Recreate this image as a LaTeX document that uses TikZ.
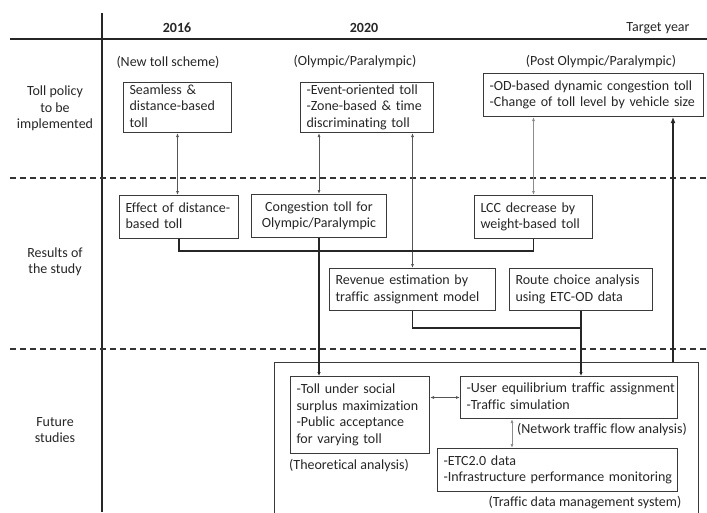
\documentclass[tikz,border=0pt]{standalone}
\usepackage{fontspec}
\setmainfont{Carlito}[Ligatures=NoCommon]
\usetikzlibrary{arrows.meta,calc}
\definecolor{txt}{HTML}{262626}
\definecolor{boxc}{HTML}{3A3A3A}
\definecolor{thin}{HTML}{555555}
\definecolor{light}{HTML}{8C8C8C}
\newcommand{\tl}[1]{\begin{tabular}{@{}l@{}}#1\end{tabular}}
\newcommand{\tc}[1]{\begin{tabular}{@{}c@{}}#1\end{tabular}}
\begin{document}
\begin{tikzpicture}[x=1pt,y=-1pt,
  font=\fontsize{14}{16.6}\selectfont, text=txt,
  axis/.style={line width=2pt, draw=black!85},
  sep/.style={line width=1.7pt, draw=black!80, dash pattern=on 6pt off 4pt},
  bx/.style={draw=boxc, line width=1pt, inner xsep=6pt, inner ysep=0pt, align=left, anchor=north west, text=txt},
  bxc/.style={bx, align=center},
  lbl/.style={align=center, text=txt},
  dbl/.style={draw=thin, line width=0.8pt, {Latex[length=4pt,width=3pt]}-{Latex[length=4pt,width=3pt]}},
  dbll/.style={dbl, draw=light},
  link/.style={draw=black!85, line width=1.5pt},
  tip/.style={-{Latex[length=4pt,width=3.5pt]}},
]
\useasboundingbox (0,0) rectangle (707,512);
% axes
\draw[axis] (102,13) -- (102,512);
\draw[axis] (10,39) -- (707,39);
\draw[sep] (10,178) -- (707,178);
\draw[sep] (10,349) -- (707,349);
% headers
\node[lbl, font=\fontsize{14}{16.6}\selectfont\bfseries] (h2016) at (177,28) {2016};
\node[lbl, font=\fontsize{14}{16.6}\selectfont\bfseries] (h2020) at (364,28) {2020};
\node[lbl] (htarget) at (658,28) {Target year};
% row labels
\node[lbl] (r1) at (55,109) {\tc{Toll policy\\to be\\implemented}};
\node[lbl] (r2) at (55,262) {\tc{Results of\\the study}};
\node[lbl] (r3) at (55,431) {\tc{Future\\studies}};
% row 1
\node[lbl] (c1) at (168,62) {(New toll scheme)};
\node[lbl] (c2) at (355,62) {(Olympic/Paralympic)};
\node[lbl] (c3) at (601,62) {(Post Olympic/Paralympic)};
\node[bx, text width=96pt, minimum height=50pt] (seam) at (123,82) {\tl{Seamless \&\\distance-based\\toll}};
\node[bx, text width=121pt, minimum height=50pt] (event) at (300,82) {\tl{-Event-oriented toll\\-Zone-based \& time\\discriminating toll}};
\node[bx, text width=208pt, minimum height=43pt] (od) at (483,73) {\tl{-OD-based dynamic congestion toll\\-Change of toll level by vehicle size}};
% row 2
\node[bx, text width=107pt, minimum height=43pt] (effect) at (119,195) {\tl{Effect of distance-\\based toll}};
\node[bxc, text width=123pt, minimum height=43pt] (cong) at (251,194) {\tc{Congestion toll for\\Olympic/Paralympic}};
\node[bx, text width=106pt, minimum height=43pt] (lcc) at (474,195) {\tl{LCC decrease by\\weight-based toll}};
\node[bx, text width=154pt, minimum height=42pt] (rev) at (329,268) {\tl{Revenue estimation by\\traffic assignment model}};
\node[bx, text width=131pt, minimum height=42pt] (route) at (509,268) {\tl{Route choice analysis\\using ETC-OD data}};
% row 3
\draw[draw=boxc, line width=1pt] (274,514) -- (274,362) coordinate (otl) -- (698,362) coordinate (otr) -- (698,514);
\coordinate (othick) at (673,362);
\node[bx, text width=127pt, minimum height=77pt] (theo) at (290,376) {\tl{-Toll under social\\surplus maximization\\-Public acceptance\\for varying toll}};
\node[lbl, anchor=north west, inner sep=0pt] (theol) at (289,459) {(Theoretical analysis)};
\node[bx, text width=205pt, minimum height=42pt] (ue) at (460,376) {\tl{-User equilibrium traffic assignment\\-Traffic simulation}};
\node[lbl] (uel) at (602,430) {(Network traffic flow analysis)};
\node[bx, text width=228pt, minimum height=43pt] (etc) at (437,448) {\tl{-ETC2.0 data\\-Infrastructure performance monitoring}};
\node[lbl] (etcl) at (585,503) {(Traffic data management system)};
% connectors
\draw[dbl] (seam.south) -- (seam.south |- effect.north);
\draw[dbl] (cong.north |- event.south) -- (cong.north);
\draw[dbl] (rev.north |- event.south) -- (rev.north);
\draw[dbll] (lcc.north |- od.south) -- (lcc.north);
\draw[link] (effect.south) -- ++(0,12) -| (lcc.south);
\draw[link, line width=1.8pt, tip] (cong.south) -- (cong.south |- theo.north);
\draw[link] (rev.south) -- ++(0,17) -| (route.south);
\draw[link, tip] (route.south) -- (route.south |- ue.north);
\draw[link, line width=2.6pt, -{Latex[length=6pt,width=5pt]}] (othick) -- (othick |- od.south);
\draw[dbl] (theo.east |- ue.west) -- (ue.west);
\draw[dbll] ($(ue.south west)+(52,0)$) -- ($(etc.north west)+(75,0)$);
\end{tikzpicture}
\end{document}
